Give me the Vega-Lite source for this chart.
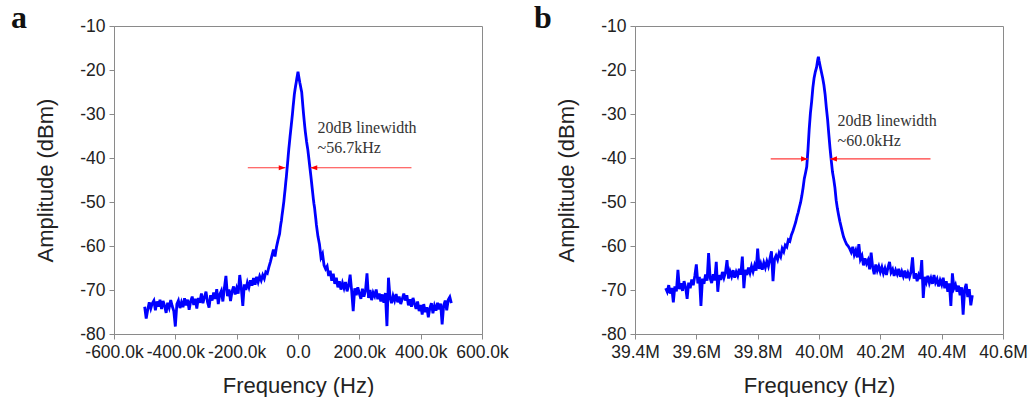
{
"$schema": "https://vega.github.io/schema/vega-lite/v6.json",
"autosize": {"type": "pad"},
"padding": {"left": 10, "top": 1, "right": 0, "bottom": 0},
"background": "white",
"bounds": "flush",
"spacing": 153,
"config": {
  "view": {"stroke": "#8a8a8a", "strokeWidth": 1},
  "axis": {"domainColor": "#8a8a8a", "tickColor": "#8a8a8a", "labelColor": "#222222", "titleColor": "#222222", "labelFont": "Liberation Sans", "titleFont": "Liberation Sans", "labelFontSize": 17.5, "titleFontSize": 22, "titleFontWeight": "normal", "grid": false, "labelFlush": false, "labelOverlap": false, "labelBound": false, "labelPadding": 4}
},
"datasets": {
"a": [
{"f":-500,"v":-73.8},{"f":-495,"v":-76.5},{"f":-490,"v":-74.5},{"f":-485,"v":-72.8},{"f":-480,"v":-74.2},{"f":-475,"v":-73.0},{"f":-470,"v":-72.4},{"f":-465,"v":-74.6},{"f":-460,"v":-72.6},{"f":-455,"v":-73.8},{"f":-450,"v":-72.2},{"f":-445,"v":-74.3},{"f":-440,"v":-72.5},{"f":-435,"v":-73.6},{"f":-430,"v":-75.2},{"f":-425,"v":-72.9},{"f":-420,"v":-74.0},{"f":-415,"v":-72.3},{"f":-410,"v":-73.7},{"f":-405,"v":-74.8},{"f":-400,"v":-78.3},{"f":-395,"v":-73.2},{"f":-390,"v":-72.4},{"f":-385,"v":-74.1},{"f":-380,"v":-72.8},{"f":-375,"v":-73.9},{"f":-370,"v":-71.9},{"f":-365,"v":-73.5},{"f":-360,"v":-72.2},{"f":-355,"v":-74.5},{"f":-350,"v":-72.6},{"f":-345,"v":-71.5},{"f":-340,"v":-73.4},{"f":-335,"v":-72.0},{"f":-330,"v":-74.2},{"f":-325,"v":-71.8},{"f":-320,"v":-72.9},{"f":-315,"v":-70.8},{"f":-310,"v":-73.0},{"f":-305,"v":-71.6},{"f":-300,"v":-70.4},{"f":-295,"v":-72.8},{"f":-290,"v":-74.0},{"f":-285,"v":-71.2},{"f":-280,"v":-72.4},{"f":-275,"v":-70.6},{"f":-270,"v":-72.0},{"f":-265,"v":-69.8},{"f":-260,"v":-73.2},{"f":-255,"v":-71.0},{"f":-250,"v":-70.2},{"f":-245,"v":-72.6},{"f":-240,"v":-69.5},{"f":-235,"v":-66.8},{"f":-230,"v":-71.4},{"f":-225,"v":-69.9},{"f":-220,"v":-72.5},{"f":-215,"v":-70.3},{"f":-210,"v":-69.2},{"f":-205,"v":-71.0},{"f":-200,"v":-69.6},{"f":-195,"v":-70.8},{"f":-190,"v":-66.6},{"f":-185,"v":-69.5},{"f":-180,"v":-73.6},{"f":-175,"v":-68.7},{"f":-170,"v":-70.0},{"f":-165,"v":-68.3},{"f":-160,"v":-69.4},{"f":-155,"v":-67.8},{"f":-150,"v":-69.0},{"f":-145,"v":-67.3},{"f":-140,"v":-68.8},{"f":-135,"v":-67.0},{"f":-130,"v":-68.2},{"f":-125,"v":-66.9},{"f":-120,"v":-67.8},{"f":-115,"v":-66.6},{"f":-110,"v":-67.4},{"f":-105,"v":-65.9},{"f":-100,"v":-66.2},{"f":-95,"v":-64.8},{"f":-90,"v":-63.6},{"f":-85,"v":-62.2},{"f":-80,"v":-60.8},{"f":-75,"v":-62.4},{"f":-70,"v":-60.2},{"f":-65,"v":-58.6},{"f":-60,"v":-57.2},
{"f":-58,"v":-56.0},{"f":-56,"v":-55.0},{"f":-54,"v":-54.2},{"f":-52,"v":-53.0},{"f":-50,"v":-52.0},{"f":-48,"v":-50.9},{"f":-46,"v":-49.8},{"f":-44,"v":-48.4},{"f":-42,"v":-47.1},{"f":-40,"v":-45.6},{"f":-38,"v":-44.3},{"f":-36,"v":-42.7},{"f":-34,"v":-41.2},{"f":-32,"v":-39.6},{"f":-30,"v":-38.0},{"f":-28,"v":-36.6},{"f":-26,"v":-35.2},{"f":-24,"v":-33.9},{"f":-22,"v":-32.6},{"f":-20,"v":-31.3},{"f":-18,"v":-29.9},{"f":-16,"v":-28.4},{"f":-14,"v":-27.0},{"f":-12,"v":-25.6},{"f":-10,"v":-24.6},{"f":-8,"v":-23.7},{"f":-6,"v":-22.9},{"f":-4,"v":-22.0},{"f":-2,"v":-21.2},{"f":0,"v":-20.4},{"f":2,"v":-21.3},{"f":4,"v":-22.1},{"f":6,"v":-22.9},{"f":8,"v":-23.6},{"f":10,"v":-24.3},{"f":12,"v":-25.0},{"f":14,"v":-26.6},{"f":16,"v":-28.3},{"f":18,"v":-29.9},{"f":20,"v":-31.4},{"f":22,"v":-32.8},{"f":24,"v":-34.1},{"f":26,"v":-35.2},{"f":28,"v":-36.3},{"f":30,"v":-37.2},{"f":32,"v":-38.1},{"f":34,"v":-39.3},{"f":36,"v":-40.5},{"f":38,"v":-41.7},{"f":40,"v":-42.9},{"f":42,"v":-44.1},{"f":44,"v":-45.4},{"f":46,"v":-46.7},{"f":48,"v":-48.0},{"f":50,"v":-49.3},{"f":52,"v":-50.4},{"f":54,"v":-51.3},{"f":56,"v":-52.6},{"f":58,"v":-53.8},
{"f":60,"v":-55.2},{"f":65,"v":-57.8},{"f":70,"v":-59.6},{"f":75,"v":-62.6},{"f":80,"v":-61.8},{"f":85,"v":-64.4},{"f":90,"v":-65.2},{"f":95,"v":-64.6},{"f":100,"v":-66.8},{"f":105,"v":-65.6},{"f":110,"v":-67.9},{"f":115,"v":-66.3},{"f":120,"v":-68.6},{"f":125,"v":-67.2},{"f":130,"v":-69.4},{"f":135,"v":-68.0},{"f":140,"v":-69.9},{"f":145,"v":-68.4},{"f":150,"v":-69.6},{"f":155,"v":-68.2},{"f":160,"v":-70.3},{"f":165,"v":-69.0},{"f":170,"v":-66.5},{"f":175,"v":-70.2},{"f":180,"v":-74.8},{"f":185,"v":-69.6},{"f":190,"v":-71.2},{"f":195,"v":-69.4},{"f":200,"v":-70.8},{"f":205,"v":-72.0},{"f":210,"v":-69.7},{"f":215,"v":-71.5},{"f":220,"v":-70.2},{"f":225,"v":-66.2},{"f":230,"v":-71.8},{"f":235,"v":-70.0},{"f":240,"v":-72.3},{"f":245,"v":-70.6},{"f":250,"v":-71.4},{"f":255,"v":-69.9},{"f":260,"v":-72.1},{"f":265,"v":-70.8},{"f":270,"v":-72.6},{"f":275,"v":-71.0},{"f":280,"v":-72.9},{"f":285,"v":-70.7},{"f":290,"v":-78.2},{"f":295,"v":-67.2},{"f":300,"v":-71.6},{"f":305,"v":-73.0},{"f":310,"v":-71.3},{"f":315,"v":-72.4},{"f":320,"v":-70.9},{"f":325,"v":-72.8},{"f":330,"v":-71.5},{"f":335,"v":-73.2},{"f":340,"v":-72.0},{"f":345,"v":-70.8},{"f":350,"v":-72.4},{"f":355,"v":-71.2},{"f":360,"v":-73.5},{"f":365,"v":-72.1},{"f":370,"v":-73.8},{"f":375,"v":-71.8},{"f":380,"v":-73.1},{"f":385,"v":-74.3},{"f":390,"v":-72.6},{"f":395,"v":-74.8},{"f":400,"v":-73.4},{"f":405,"v":-75.6},{"f":410,"v":-73.2},{"f":415,"v":-75.0},{"f":420,"v":-73.9},{"f":425,"v":-76.2},{"f":430,"v":-74.1},{"f":435,"v":-73.0},{"f":440,"v":-75.3},{"f":445,"v":-73.6},{"f":450,"v":-74.7},{"f":455,"v":-72.9},{"f":460,"v":-74.4},{"f":465,"v":-73.1},{"f":470,"v":-77.8},{"f":475,"v":-73.5},{"f":480,"v":-72.4},{"f":485,"v":-74.6},{"f":490,"v":-72.2},{"f":495,"v":-71.6},{"f":500,"v":-73.0}
],
"b": [
{"f":39.500,"v":-69.6},{"f":39.505,"v":-70.4},{"f":39.510,"v":-68.9},{"f":39.515,"v":-70.8},{"f":39.520,"v":-69.5},{"f":39.525,"v":-72.8},{"f":39.530,"v":-69.2},{"f":39.535,"v":-70.3},{"f":39.540,"v":-65.4},{"f":39.545,"v":-69.8},{"f":39.550,"v":-68.5},{"f":39.555,"v":-70.2},{"f":39.560,"v":-68.0},{"f":39.565,"v":-69.4},{"f":39.570,"v":-72.0},{"f":39.575,"v":-68.3},{"f":39.580,"v":-69.6},{"f":39.585,"v":-67.6},{"f":39.590,"v":-68.9},{"f":39.595,"v":-66.8},{"f":39.600,"v":-64.2},{"f":39.605,"v":-68.5},{"f":39.610,"v":-67.0},{"f":39.615,"v":-73.6},{"f":39.620,"v":-67.4},{"f":39.625,"v":-68.6},{"f":39.630,"v":-66.5},{"f":39.635,"v":-67.9},{"f":39.640,"v":-61.6},{"f":39.645,"v":-67.3},{"f":39.650,"v":-68.4},{"f":39.655,"v":-66.4},{"f":39.660,"v":-67.8},{"f":39.665,"v":-63.6},{"f":39.670,"v":-70.4},{"f":39.675,"v":-66.6},{"f":39.680,"v":-67.7},{"f":39.685,"v":-65.9},{"f":39.690,"v":-67.2},{"f":39.695,"v":-66.0},{"f":39.700,"v":-63.2},{"f":39.705,"v":-67.4},{"f":39.710,"v":-65.8},{"f":39.715,"v":-66.9},{"f":39.720,"v":-65.5},{"f":39.725,"v":-67.2},{"f":39.730,"v":-65.9},{"f":39.735,"v":-66.8},{"f":39.740,"v":-65.2},{"f":39.745,"v":-66.5},{"f":39.750,"v":-62.4},{"f":39.755,"v":-69.6},{"f":39.760,"v":-65.4},{"f":39.765,"v":-66.6},{"f":39.770,"v":-64.9},{"f":39.775,"v":-66.1},{"f":39.780,"v":-64.6},{"f":39.785,"v":-65.8},{"f":39.790,"v":-64.4},{"f":39.795,"v":-65.6},{"f":39.800,"v":-60.6},{"f":39.805,"v":-65.2},{"f":39.810,"v":-64.0},{"f":39.815,"v":-65.4},{"f":39.820,"v":-63.8},{"f":39.825,"v":-64.9},{"f":39.830,"v":-63.5},{"f":39.835,"v":-64.6},{"f":39.840,"v":-62.9},{"f":39.845,"v":-61.2},{"f":39.850,"v":-68.0},{"f":39.855,"v":-63.0},{"f":39.860,"v":-62.2},{"f":39.865,"v":-63.1},{"f":39.870,"v":-61.6},{"f":39.875,"v":-62.4},{"f":39.880,"v":-60.6},{"f":39.885,"v":-61.3},{"f":39.890,"v":-59.8},{"f":39.895,"v":-60.2},{"f":39.900,"v":-58.6},{"f":39.905,"v":-58.9},{"f":39.910,"v":-57.5},{"f":39.915,"v":-56.6},{"f":39.920,"v":-55.5},{"f":39.924,"v":-54.6},{"f":39.928,"v":-53.4},{"f":39.932,"v":-52.4},{"f":39.936,"v":-51.2},{"f":39.940,"v":-50.1},{"f":39.944,"v":-48.6},{"f":39.948,"v":-46.8},{"f":39.952,"v":-44.7},{"f":39.956,"v":-43.4},{"f":39.960,"v":-42.0},{"f":39.964,"v":-38.2},{"f":39.968,"v":-33.5},{"f":39.972,"v":-29.8},{"f":39.976,"v":-27.2},{"f":39.980,"v":-24.0},{"f":39.984,"v":-21.8},{"f":39.988,"v":-20.4},{"f":39.992,"v":-19.4},{"f":39.996,"v":-17.6},{"f":39.998,"v":-17.0},{"f":40.000,"v":-17.8},{"f":40.004,"v":-19.2},{"f":40.008,"v":-20.5},{"f":40.012,"v":-21.8},{"f":40.016,"v":-23.4},{"f":40.020,"v":-25.6},{"f":40.024,"v":-28.6},{"f":40.028,"v":-31.2},{"f":40.032,"v":-34.6},{"f":40.036,"v":-37.8},{"f":40.040,"v":-40.6},{"f":40.044,"v":-43.2},{"f":40.048,"v":-44.8},{"f":40.052,"v":-46.8},{"f":40.056,"v":-49.6},{"f":40.060,"v":-51.5},{"f":40.064,"v":-53.0},{"f":40.068,"v":-54.4},{"f":40.072,"v":-55.6},{"f":40.076,"v":-56.8},{"f":40.080,"v":-57.9},{"f":40.085,"v":-58.8},{"f":40.090,"v":-59.6},{"f":40.095,"v":-60.0},{"f":40.100,"v":-60.6},
{"f":40.105,"v":-61.4},{"f":40.110,"v":-60.2},{"f":40.115,"v":-62.0},{"f":40.120,"v":-61.0},{"f":40.125,"v":-62.6},{"f":40.130,"v":-59.6},{"f":40.135,"v":-63.0},{"f":40.140,"v":-62.2},{"f":40.145,"v":-64.4},{"f":40.150,"v":-62.8},{"f":40.155,"v":-64.0},{"f":40.160,"v":-63.2},{"f":40.165,"v":-65.3},{"f":40.170,"v":-61.5},{"f":40.175,"v":-64.8},{"f":40.180,"v":-66.4},{"f":40.185,"v":-64.2},{"f":40.190,"v":-65.6},{"f":40.195,"v":-64.6},{"f":40.200,"v":-65.9},{"f":40.205,"v":-64.8},{"f":40.210,"v":-66.2},{"f":40.215,"v":-65.1},{"f":40.220,"v":-66.6},{"f":40.225,"v":-64.9},{"f":40.230,"v":-63.6},{"f":40.235,"v":-66.0},{"f":40.240,"v":-65.3},{"f":40.245,"v":-66.8},{"f":40.250,"v":-65.5},{"f":40.255,"v":-66.4},{"f":40.260,"v":-65.2},{"f":40.265,"v":-67.0},{"f":40.270,"v":-65.8},{"f":40.275,"v":-66.9},{"f":40.280,"v":-65.6},{"f":40.285,"v":-67.3},{"f":40.290,"v":-66.1},{"f":40.295,"v":-67.1},{"f":40.300,"v":-65.9},{"f":40.305,"v":-62.6},{"f":40.310,"v":-67.4},{"f":40.315,"v":-66.2},{"f":40.320,"v":-68.0},{"f":40.325,"v":-66.6},{"f":40.330,"v":-67.5},{"f":40.335,"v":-63.2},{"f":40.340,"v":-71.8},{"f":40.345,"v":-67.0},{"f":40.350,"v":-68.2},{"f":40.355,"v":-66.8},{"f":40.360,"v":-68.4},{"f":40.365,"v":-67.3},{"f":40.370,"v":-68.6},{"f":40.375,"v":-66.6},{"f":40.380,"v":-68.3},{"f":40.385,"v":-67.5},{"f":40.390,"v":-69.2},{"f":40.395,"v":-67.8},{"f":40.400,"v":-68.8},{"f":40.405,"v":-67.2},{"f":40.410,"v":-69.6},{"f":40.415,"v":-68.0},{"f":40.420,"v":-70.4},{"f":40.425,"v":-68.5},{"f":40.430,"v":-73.6},{"f":40.435,"v":-66.2},{"f":40.440,"v":-69.6},{"f":40.445,"v":-68.8},{"f":40.450,"v":-70.4},{"f":40.455,"v":-69.0},{"f":40.460,"v":-71.2},{"f":40.465,"v":-69.4},{"f":40.470,"v":-75.6},{"f":40.475,"v":-69.8},{"f":40.480,"v":-68.6},{"f":40.485,"v":-71.6},{"f":40.490,"v":-69.8},{"f":40.495,"v":-73.5},{"f":40.500,"v":-71.2}
]
},
"hconcat": [
{
  "width": 368, "height": 308,
  "title": {"text": "a", "anchor": "start", "frame": "group", "dx": -103, "dy": 41, "offset": -2, "baseline": "alphabetic", "font": "Liberation Serif", "fontSize": 32, "fontWeight": "bold", "color": "#111111"},
  "layer": [
    {
      "data": {"name": "a"},
      "mark": {"type": "line", "color": "#0000ff", "strokeWidth": 2.8, "clip": true},
      "encoding": {
        "x": {"field": "f", "type": "quantitative", "scale": {"domain": [-600, 600], "nice": false, "zero": false},
          "axis": {"title": "Frequency (Hz)", "titlePadding": 15, "values": [-600,-500,-400,-300,-200,-100,0,100,200,300,400,500,600],
            "labelExpr": "datum.value % 200 == 0 ? (datum.value == 0 ? '0.0' : (datum.value < 0 ? '-' : '') + format(abs(datum.value), '.1f') + 'k') : ''",
            "tickSize": {"condition": {"test": "datum.value % 200 == 0", "value": 5}, "value": 3}}},
        "y": {"field": "v", "type": "quantitative", "scale": {"domain": [-80, -10], "nice": false, "zero": false},
          "axis": {"title": "Amplitude (dBm)", "titlePadding": 22, "values": [-80,-75,-70,-65,-60,-55,-50,-45,-40,-35,-30,-25,-20,-15,-10],
            "labelExpr": "datum.value % 10 == 0 ? (datum.value < 0 ? '-' : '') + abs(datum.value) : ''",
            "tickSize": {"condition": {"test": "datum.value % 10 == 0", "value": 5}, "value": 3}}}
      }
    },
    {
      "data": {"values": [{}]},
      "mark": {"type": "text", "align": "left", "baseline": "alphabetic", "font": "Liberation Serif", "fontSize": 16, "lineHeight": 20, "color": "#333333"},
      "encoding": {"x": {"datum": 63.6}, "y": {"datum": -34.4}, "text": {"value": ["20dB linewidth", "~56.7kHz"]}}
    },
    {
      "data": {"values": [{}]},
      "mark": {"type": "rule", "color": "#ff3b3b", "strokeWidth": 1.1},
      "encoding": {"x": {"datum": -163.7}, "x2": {"datum": -41}, "y": {"datum": -42.2}}
    },
    {
      "data": {"values": [{}]},
      "mark": {"type": "rule", "color": "#ff3b3b", "strokeWidth": 1.1},
      "encoding": {"x": {"datum": 41}, "x2": {"datum": 370}, "y": {"datum": -42.2}}
    },
    {
      "data": {"values": [{}]},
      "mark": {"type": "point", "shape": "M0,0L-1,-0.38L-1,0.38Z", "filled": true, "color": "#ff0000", "opacity": 1, "size": 180},
      "encoding": {"x": {"datum": -40.8}, "y": {"datum": -42.2}}
    },
    {
      "data": {"values": [{}]},
      "mark": {"type": "point", "shape": "M0,0L1,-0.38L1,0.38Z", "filled": true, "color": "#ff0000", "opacity": 1, "size": 180},
      "encoding": {"x": {"datum": 40.8}, "y": {"datum": -42.2}}
    }
  ]
},
{
  "width": 368, "height": 308,
  "title": {"text": "b", "anchor": "start", "frame": "group", "dx": -101, "dy": 41, "offset": -2, "baseline": "alphabetic", "font": "Liberation Serif", "fontSize": 32, "fontWeight": "bold", "color": "#111111"},
  "layer": [
    {
      "data": {"name": "b"},
      "mark": {"type": "line", "color": "#0000ff", "strokeWidth": 2.8, "clip": true},
      "encoding": {
        "x": {"field": "f", "type": "quantitative", "scale": {"domain": [39.4, 40.6], "nice": false, "zero": false},
          "axis": {"title": "Frequency (Hz)", "titlePadding": 15, "values": [39.4,39.5,39.6,39.7,39.8,39.9,40.0,40.1,40.2,40.3,40.4,40.5,40.6],
            "labelExpr": "round(datum.value * 10) % 2 == 0 ? format(datum.value, '.1f') + 'M' : ''",
            "tickSize": {"condition": {"test": "round(datum.value * 10) % 2 == 0", "value": 5}, "value": 3}}},
        "y": {"field": "v", "type": "quantitative", "scale": {"domain": [-80, -10], "nice": false, "zero": false},
          "axis": {"title": "Amplitude (dBm)", "titlePadding": 22, "values": [-80,-75,-70,-65,-60,-55,-50,-45,-40,-35,-30,-25,-20,-15,-10],
            "labelExpr": "datum.value % 10 == 0 ? (datum.value < 0 ? '-' : '') + abs(datum.value) : ''",
            "tickSize": {"condition": {"test": "datum.value % 10 == 0", "value": 5}, "value": 3}}}
      }
    },
    {
      "data": {"values": [{}]},
      "mark": {"type": "text", "align": "left", "baseline": "alphabetic", "font": "Liberation Serif", "fontSize": 16, "lineHeight": 20, "color": "#333333"},
      "encoding": {"x": {"datum": 40.0605}, "y": {"datum": -32.7}, "text": {"value": ["20dB linewidth", "~60.0kHz"]}}
    },
    {
      "data": {"values": [{}]},
      "mark": {"type": "rule", "color": "#ff3b3b", "strokeWidth": 1.1},
      "encoding": {"x": {"datum": 39.8425}, "x2": {"datum": 39.9632}, "y": {"datum": -40.2}}
    },
    {
      "data": {"values": [{}]},
      "mark": {"type": "rule", "color": "#ff3b3b", "strokeWidth": 1.1},
      "encoding": {"x": {"datum": 40.0368}, "x2": {"datum": 40.3636}, "y": {"datum": -40.2}}
    },
    {
      "data": {"values": [{}]},
      "mark": {"type": "point", "shape": "M0,0L-1,-0.38L-1,0.38Z", "filled": true, "color": "#ff0000", "opacity": 1, "size": 180},
      "encoding": {"x": {"datum": 39.9634}, "y": {"datum": -40.2}}
    },
    {
      "data": {"values": [{}]},
      "mark": {"type": "point", "shape": "M0,0L1,-0.38L1,0.38Z", "filled": true, "color": "#ff0000", "opacity": 1, "size": 180},
      "encoding": {"x": {"datum": 40.0366}, "y": {"datum": -40.2}}
    }
  ]
}
]
}
